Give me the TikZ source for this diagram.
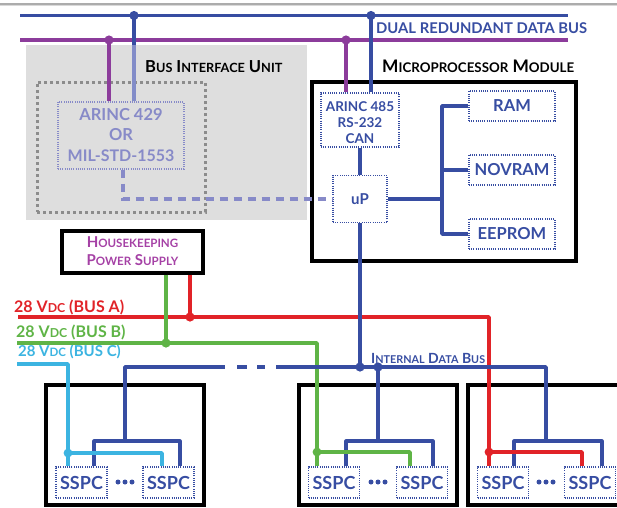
\documentclass[tikz,border=0pt]{standalone}
\usepackage{fontspec}
\setmainfont{Lato}
\usetikzlibrary{calc}
\definecolor{busblue}{RGB}{55,77,162}
\definecolor{fadeblue}{RGB}{130,140,200}
\definecolor{buspurple}{RGB}{140,60,155}
\definecolor{txtpurple}{RGB}{165,65,165}
\definecolor{busred}{RGB}{225,35,40}
\definecolor{busgreen}{RGB}{95,180,70}
\definecolor{buscyan}{RGB}{60,180,225}
\definecolor{lightpb}{RGB}{135,138,200}
\definecolor{biugray}{RGB}{222,222,222}
\definecolor{dotgray}{RGB}{140,140,140}
\newcommand\smc[1]{\scalebox{0.77}{#1}}
\newcommand\fs[1]{\bfseries\fontsize{#1}{#1}\selectfont}
\begin{document}
\begin{tikzpicture}[x=1pt,y=-1pt,
  wire/.style={line width=3.8pt,line join=round},
  thinwire/.style={line width=3.2pt,line join=round},
  pwire/.style={line width=3.8pt,line join=round},
  dotbox/.style={draw=busblue,line width=1.2pt,dash pattern=on 1pt off 1.2pt,inner sep=0pt},
  blkbox/.style={draw=black,line width=3.4pt,inner sep=0pt},
  lbl/.style={font=\fs{16.5},inner sep=0pt},
  sspc/.style={dotbox,minimum width=51pt,minimum height=31pt,text=busblue,font=\fs{18}}
]
\useasboundingbox (0,0) rectangle (617,507);
\clip (0,0) rectangle (617,507);
% top border line
\draw[line width=2pt,gray!65] (0,3.5) -- (617,3.5);
\draw[line width=1.5pt,gray!30] (0,5.5) -- (617,5.5);

% Bus interface unit background
\node[fill=biugray,minimum width=281pt,minimum height=175pt,inner sep=0pt] (biu) at (166.5,132.5) {};
\node[draw=dotgray,line width=3pt,dash pattern=on 3pt off 3pt,minimum width=168pt,minimum height=130pt,inner sep=0pt] (biudot) at (121,147) {};
\node[lbl,anchor=base west] (biutxt) at (145,72) {B\smc{US} I\smc{NTERFACE} U\smc{NIT}};

\node[draw=lightpb,line width=1.2pt,dash pattern=on 1pt off 1.2pt,inner sep=0pt,minimum width=126pt,minimum height=67pt] (arinc429) at (121,135.5) {};
\node[font=\fs{16.5},text=lightpb,anchor=base] (a429a) at (121,120.7) {ARINC 429};
\node[font=\fs{16.5},text=lightpb,anchor=base] (a429b) at (121,140.7) {OR};
\node[font=\fs{16},text=lightpb,anchor=base] (a429c) at (121,161) {MIL-STD-1553};

% microprocessor module
\node[blkbox,minimum width=264pt,minimum height=179pt] (mpm) at (444,171.5) {};
\node[lbl,font=\fs{17.3},anchor=base west] (mpmtxt) at (382,72) {M\smc{ICROPROCESSOR} M\smc{ODULE}};
\node[dotbox,minimum width=78pt,minimum height=54pt] (arinc485) at (360,120) {};
\node[font=\fs{13.5},text=busblue,anchor=base] (a485a) at (360,111) {ARINC 485};
\node[font=\fs{13.5},text=busblue,anchor=base] (a485b) at (360,127) {RS-232};
\node[font=\fs{13.5},text=busblue,anchor=base] (a485c) at (360,143) {CAN};
\node[dotbox,minimum width=54pt,minimum height=47pt,font=\fs{15},text=busblue] (up) at (360,199) {uP};
\node[dotbox,minimum width=86pt,minimum height=30pt,font=\fs{16.5},text=busblue] (ram) at (512,106) {RAM};
\node[dotbox,minimum width=86pt,minimum height=30pt,font=\fs{16.5},text=busblue] (novram) at (512,170) {NOVRAM};
\node[dotbox,minimum width=86pt,minimum height=30pt,font=\fs{16.5},text=busblue] (eeprom) at (512,234) {EEPROM};

% housekeeping supply
\node[blkbox,minimum width=141pt,minimum height=42pt] (hk) at (132.5,252) {};
\node[font=\fs{15},inner sep=0pt,text=txtpurple,anchor=base] (hka) at (132.5,247.3) {H\smc{OUSEKEEPING}};
\node[font=\fs{15},inner sep=0pt,text=txtpurple,anchor=base] (hkb) at (132.5,265) {P\smc{OWER} S\smc{UPPLY}};

% bottom boxes
\node[blkbox,minimum width=158pt,minimum height=120pt] (box1) at (125,445) {};
\node[blkbox,minimum width=158pt,minimum height=120pt] (box2) at (378,445) {};
\node[blkbox,minimum width=174pt,minimum height=120pt] (box3) at (555,445) {};
\node[sspc] (s1a) at (81.5,482.5) {SSPC};
\node[sspc] (s1b) at (168.5,482.5) {SSPC};
\node[sspc] (s2a) at (334,482.5) {SSPC};
\node[sspc] (s2b) at (422,482.5) {SSPC};
\node[sspc] (s3a) at (503,482.5) {SSPC};
\node[sspc] (s3b) at (590,482.5) {SSPC};
\foreach \cx in {125,378,546}{
  \foreach \dx in {-7,0,7}{\fill[busblue] (\cx+\dx,482) circle (2.5pt);}
}

% labels
\node[font=\fs{14.8},inner sep=0pt,text=busblue,anchor=base west] (dualtxt) at (376,33) {DUAL REDUNDANT DATA BUS};
\node[lbl,font=\fs{16},text=busred,anchor=base west] (busA) at (14,312.7) {28 V\smc{DC} (BUS A)};
\node[lbl,font=\fs{16},text=busgreen,anchor=base west] (busB) at (16,337.3) {28 V\smc{DC} (BUS B)};
\node[lbl,font=\fs{15},text=buscyan,anchor=base west] (busC) at (18,356.7) {28 V\smc{DC} (BUS C)};
\node[font=\fs{14},text=busblue,anchor=base west,inner sep=0pt] (ibtxt) at (371,363) {I\smc{NTERNAL} D\smc{ATA} B\smc{US}};

% coordinates
\coordinate (bl) at (20,15.5); \coordinate (br) at (568,15.5);
\coordinate (pl) at (20,40);   \coordinate (pr) at (568,40);
\coordinate (b1) at (134,15.5); \coordinate (b2) at (371,15.5);
\coordinate (p1) at (109,40);   \coordinate (p2) at (346,40);
\coordinate (dd) at (123,199);
\coordinate (tr) at (442,199);
\coordinate (ibL) at (125,367); \coordinate (ibR) at (546,367);
\coordinate (ib1) at (360,367); \coordinate (ib2) at (378,367);
\coordinate (g1) at (225,367); \coordinate (g2) at (237,367);
\coordinate (g3) at (247,367); \coordinate (g4) at (257,367);
\coordinate (g5) at (265,367); \coordinate (g6) at (276,367);
\coordinate (k1) at (125,441); \coordinate (k1a) at (94,441); \coordinate (k1b) at (180,441);
\coordinate (k2) at (378,441); \coordinate (k2a) at (346,441); \coordinate (k2b) at (433,441);
\coordinate (k3) at (546,441); \coordinate (k3a) at (514,441); \coordinate (k3b) at (602,441);
\coordinate (rl) at (18,317); \coordinate (rc) at (489,317); \coordinate (rh) at (190,317);
\coordinate (r3) at (489,452); \coordinate (r3b) at (582,452);
\coordinate (gl) at (17,343); \coordinate (gc) at (317,343); \coordinate (gh) at (166,343);
\coordinate (g2d) at (317,452); \coordinate (g2b) at (410,452);
\coordinate (cl) at (17,364); \coordinate (cc) at (68,364);
\coordinate (c1) at (68,453); \coordinate (c1b) at (162,453);

% data buses
\draw[wire,buspurple] (pl) -- (pr);
\draw[wire,buspurple] (p1) -- (p1 |- arinc429.north);
\draw[wire,buspurple] (p2) -- (p2 |- arinc485.north);
\draw[wire,busblue] (bl) -- (br);
\draw[wire,busblue] (b1) -- (b1 |- biu.north);
\draw[wire,fadeblue] (b1 |- biu.north) -- (b1 |- arinc429.north);
\draw[wire,busblue] (b2) -- (b2 |- arinc485.north);
\fill[buspurple] (p1) circle (4.6pt) (p2) circle (4.6pt);
\fill[busblue] (b1) circle (4.6pt) (b2) circle (4.6pt);

% dashed link
\draw[line width=3.4pt,lightpb,dash pattern=on 8pt off 6pt] (dd |- arinc429.south) -- (dd) -- (up.west);

% module internals
\draw[wire,busblue] (arinc485.south) -- (up.north);
\draw[wire,busblue] (up.east) -- (tr);
\draw[wire,busblue] (ram.west) -- (tr |- ram.west) -- (tr |- eeprom.west) -- (eeprom.west);
\draw[wire,busblue] (tr |- novram.west) -- (novram.west);

% power supply lines
\draw[pwire,busred] (rl) -- (rc) -- (r3);
\draw[pwire,busgreen] (gl) -- (gc) -- (g2d);
\draw[pwire,buscyan] (cl) -- (cc) -- (c1);
\draw[pwire,busgreen] (gh |- hk.south) -- (gh);
\draw[pwire,busred] (rh |- hk.south) -- (rh);
\fill[busgreen] (gh) circle (4.6pt);
\fill[busred] (rh) circle (4.6pt);

% internal data bus
\draw[wire,busblue] (up.south) -- (ib1);
\draw[wire,busblue] (k1) -- (ibL) -- (g1);
\draw[wire,busblue] (g2) -- (g3);
\draw[wire,busblue] (g4) -- (g5);
\draw[wire,busblue] (g6) -- (ibR) -- (k3);
\draw[wire,busblue] (ib2) -- (k2);
\fill[busblue] (ib1) circle (4.6pt) (ib2) circle (4.6pt);

% inside boxes: data
\draw[thinwire,busblue] (s1a.north -| k1a) -- (k1a) -- (k1b) -- (s1b.north -| k1b);
\draw[thinwire,busblue] (s2a.north -| k2a) -- (k2a) -- (k2b) -- (s2b.north -| k2b);
\draw[thinwire,busblue] (s3a.north -| k3a) -- (k3a) -- (k3b) -- (s3b.north -| k3b);
% inside boxes: power
\draw[pwire,buscyan] (c1) -- (s1a.north -| c1);
\draw[pwire,buscyan] (c1) -- (c1b) -- (s1b.north -| c1b);
\draw[pwire,busgreen] (g2d) -- (s2a.north -| g2d);
\draw[pwire,busgreen] (g2d) -- (g2b) -- (s2b.north -| g2b);
\draw[pwire,busred] (r3) -- (s3a.north -| r3);
\draw[pwire,busred] (r3) -- (r3b) -- (s3b.north -| r3b);
\fill[buscyan] (c1) circle (4.4pt);
\fill[busgreen] (g2d) circle (4.4pt);
\fill[busred] (r3) circle (4.4pt);
\end{tikzpicture}
\end{document}
